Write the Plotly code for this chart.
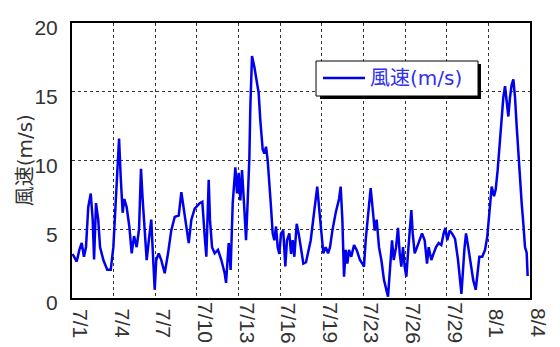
import plotly.graph_objects as go

# time in days since 7/1 00:00 (axis scaled so ticks are equally spaced)
days = [0.04, 0.34, 0.53, 0.70, 0.86, 1.01, 1.17, 1.35, 1.49, 1.59, 1.73, 1.89, 2.02, 2.26, 2.54,
        2.79, 2.98, 3.15, 3.26, 3.39, 3.51, 3.65, 3.77, 3.94, 4.13, 4.30, 4.47, 4.66, 4.83, 4.97,
        5.09, 5.26, 5.38, 5.57, 5.71, 5.84, 5.96, 6.07, 6.25, 6.43, 6.68, 6.92, 7.15, 7.40, 7.69,
        7.88, 8.07, 8.24, 8.41, 8.60, 8.84, 9.20, 9.39, 9.56, 9.68, 9.85, 9.94, 10.09, 10.28, 10.52,
        10.76, 11.00, 11.10, 11.29, 11.43, 11.58, 11.77, 11.89, 12.01, 12.13, 12.25, 12.41, 12.54,
        12.66, 12.78, 12.85, 12.97, 13.14, 13.31, 13.45, 13.57, 13.74, 13.86, 13.98, 14.10, 14.22,
        14.34, 14.46, 14.58, 14.70, 14.82, 14.94, 15.06, 15.22, 15.37, 15.49, 15.66, 15.78, 15.90,
        16.02, 16.19, 16.33, 16.50, 16.67, 16.86, 17.20, 17.44, 17.67, 17.80, 17.96, 18.11, 18.28,
        18.45, 18.59, 18.76, 19.00, 19.24, 19.36, 19.48, 19.60, 19.72, 19.84, 19.96, 20.12, 20.32,
        20.51, 20.75, 20.92, 21.04, 21.16, 21.33, 21.52, 21.69, 21.81, 21.95, 22.12, 22.29, 22.48,
        22.77, 22.93, 23.06, 23.18, 23.35, 23.49, 23.61, 23.73, 23.85, 23.97, 24.09, 24.21, 24.35,
        24.45, 24.55, 24.69, 24.86, 25.02, 25.22, 25.41, 25.58, 25.70, 25.89, 26.06, 26.23, 26.42,
        26.61, 26.78, 26.90, 27.04, 27.21, 27.38, 27.60, 27.81, 27.91, 28.06, 28.27, 28.39, 28.55,
        28.75, 28.91, 29.09, 29.23, 29.35, 29.56, 29.76, 29.92, 30.07, 30.24, 30.41, 30.53, 30.67,
        30.79, 30.96, 31.08, 31.20, 31.32, 31.44, 31.56, 31.68, 31.80, 31.92, 32.04, 32.16, 32.28,
        32.40, 32.52, 32.64, 32.76, 32.83]

wind = [3.2, 2.65, 3.5, 4.0, 3.0, 3.7, 6.6, 7.6, 5.7, 2.8, 6.9, 5.7, 3.7, 2.76, 2.05,
        2.05, 3.7, 6.9, 8.8, 11.6, 8.8, 6.2, 7.2, 6.6, 5.2, 3.25, 4.5, 3.7, 5.0, 9.4,
        7.2, 4.5, 2.76, 4.5, 5.7, 3.0, 0.6, 2.76, 3.25, 2.76, 1.8, 3.25, 4.9, 5.9, 6.0,
        7.7, 6.4, 4.9, 4.0, 5.7, 6.5, 6.9, 7.0, 4.5, 3.0, 8.6, 5.7, 3.7, 3.25, 3.5,
        2.76, 1.8, 1.1, 4.0, 2.04, 6.9, 9.5, 7.6, 9.1, 7.1, 9.3, 6.6, 4.2,
        7.1, 10.2, 13.9, 17.6, 16.8, 15.9, 14.9, 12.9, 10.8, 10.5, 11.0, 10.0, 8.6,
        6.6, 4.7, 4.2, 5.2, 3.7, 3.2, 4.7, 4.9, 2.3, 4.2, 4.7, 3.2, 4.2,
        3.0, 5.4, 4.7, 3.5, 2.5, 2.6, 4.2, 6.2, 8.1, 6.6, 4.7, 3.25, 3.7,
        3.25, 3.7, 4.9, 6.2, 7.2, 8.1, 5.7, 1.55, 3.5, 2.5, 3.5, 3.0, 3.85,
        3.5, 2.76, 2.5, 2.28, 4.2, 5.9, 8.0, 6.2, 4.9, 5.7, 3.7, 2.76, 1.3,
        0.1, 2.5, 4.2, 2.76, 3.7, 5.1, 3.25, 2.28, 3.7, 2.28, 1.55, 3.25, 5.2,
        6.4, 4.7, 3.25, 3.7, 4.2, 4.7, 4.2, 2.5, 3.7, 2.76, 3.25, 3.7, 4.0,
        3.85, 4.7, 5.1, 4.2, 4.9, 4.7, 4.3, 2.8, 1.55, 0.3, 3.5, 4.7, 3.7,
        2.3, 1.3, 0.6, 1.8, 3.0, 3.0, 3.5, 4.45, 6.2, 8.1, 7.4, 7.9, 9.3,
        11.0, 12.9, 14.6, 15.4, 14.4, 13.2, 14.6, 15.5, 15.9, 14.6, 12.5, 10.5, 8.8,
        6.9, 5.4, 3.7, 3.3, 1.6]

tick_pos = [0, 3, 6, 9, 12, 15, 18, 21, 24, 27, 30, 33]
tick_text = ["7/1", "7/4", "7/7", "7/10", "7/13", "7/16", "7/19", "7/23", "7/26", "7/29", "8/1", "8/4"]
y_ticks = [0, 5, 10, 15, 20]

series_name = "風速(m/s)"
y_title = "風速(m/s)"

FONT = "Liberation Sans, Noto Sans CJK JP, sans-serif"
FONT2 = "DejaVu Sans, Noto Sans CJK JP, sans-serif"
LINE = "#0000EE"

fig = go.Figure()
fig.add_trace(go.Scatter(x=days, y=wind, mode="lines", name=series_name,
                         line=dict(color=LINE, width=2.5), showlegend=False))

# legend box (drawn by hand): shadow, box, line sample
fig.add_shape(type="rect", xref="paper", yref="paper",
              x0=0.5415, x1=0.893, y0=0.7236, y1=0.8509,
              fillcolor="black", line=dict(width=0), layer="above")
fig.add_shape(type="rect", xref="paper", yref="paper",
              x0=0.5328, x1=0.8865, y0=0.7345, y1=0.8618,
              fillcolor="white", line=dict(color="black", width=1), layer="above")
fig.add_shape(type="line", xref="paper", yref="paper",
              x0=0.548, x1=0.6397, y0=0.80, y1=0.80,
              line=dict(color=LINE, width=2.5), layer="above")

annotations = [dict(x=0.6463, xref="paper", y=0.80, yref="paper", text=series_name,
                    showarrow=False, xanchor="left", yanchor="middle",
                    font=dict(family=FONT2, size=20, color="#3030F0"))]
for tp, tt in zip(tick_pos, tick_text):
    annotations.append(dict(x=tp, xref="x", y=-0.091, yref="paper", text=tt,
                            textangle=90, showarrow=False, xshift=9,
                            xanchor="center", yanchor="middle",
                            font=dict(family=FONT, size=21, color="#333")))
annotations.append(dict(x=-0.103, xref="paper", y=0.5, yref="paper", text=y_title,
                        textangle=-90, showarrow=False, xanchor="center", yanchor="middle",
                        font=dict(family=FONT2, size=20, color="#333")))

fig.update_layout(
    width=560, height=347,
    margin=dict(l=72, r=30, t=23, b=49),
    paper_bgcolor="white", plot_bgcolor="white",
    annotations=annotations,
    showlegend=False,
)
fig.update_xaxes(range=[0, 33], tickvals=tick_pos, showticklabels=False,
                 showgrid=True, gridcolor="#333", griddash="dot", gridwidth=1,
                 showline=True, linecolor="black", linewidth=2, mirror=True,
                 ticks="", zeroline=False)
fig.update_yaxes(range=[0, 20], tickvals=y_ticks,
                 showgrid=True, gridcolor="#333", griddash="dot", gridwidth=1,
                 showline=True, linecolor="black", linewidth=2, mirror=True,
                 ticks="", zeroline=False, ticklabelshift=5, ticklabelstandoff=8,
                 tickfont=dict(family=FONT, size=21, color="#333"))

fig.write_html("out.html", config={"displayModeBar": False},
               post_script="document.body.style.margin='0';document.body.style.overflow='hidden';")
